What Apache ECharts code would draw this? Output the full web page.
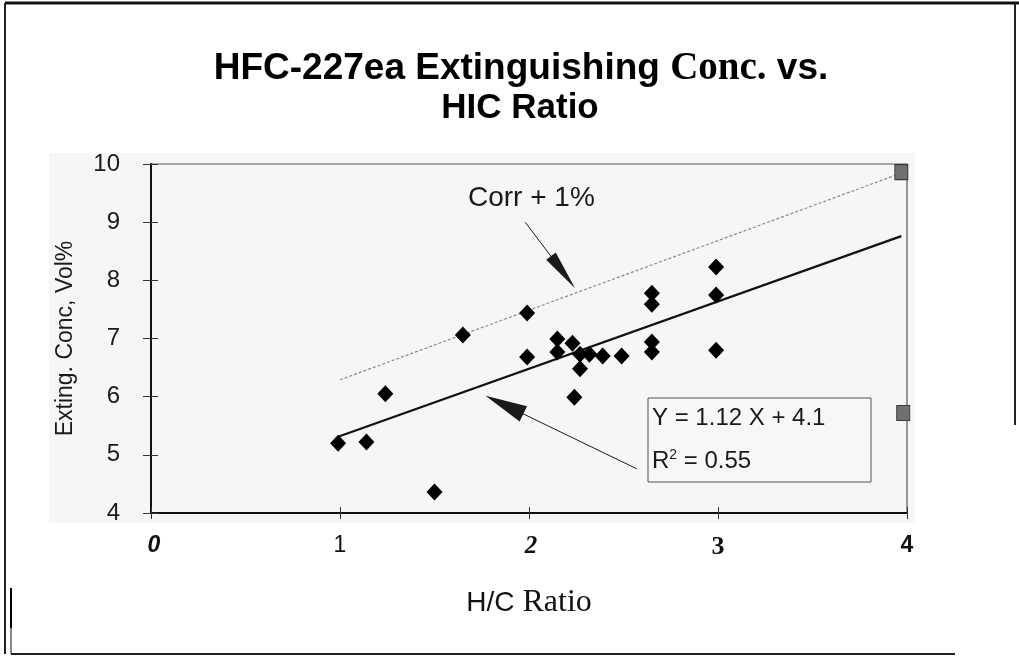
<!DOCTYPE html>
<html>
<head>
<meta charset="utf-8">
<script src="https://cdn.jsdelivr.net/npm/echarts@6/dist/echarts.min.js"></script>
<style>
html,body{margin:0;padding:0;background:#fff;}
#chart{width:1019px;height:658px;}
</style>
</head>
<body>
<div id="chart"></div>
<script>
// ---- data ----
const hcRatio = [0.99, 1.14, 1.24, 1.50, 1.65, 1.99, 1.99, 2.15, 2.15, 2.23, 2.27, 2.27, 2.32, 2.39, 2.49, 2.24, 2.65, 2.65, 2.65, 2.65, 2.99, 2.99, 2.99];
const extConc = [5.20, 5.22, 6.05, 4.36, 7.06, 7.44, 6.68, 6.99, 6.77, 6.92, 6.73, 6.48, 6.73, 6.70, 6.70, 5.99, 7.78, 7.59, 6.94, 6.77, 8.23, 7.75, 6.80];
const markerX = [3.97, 3.98];
const markerY = [9.86, 5.72];
const fitX = [0.99, 3.97];
const fitY = [5.31, 8.76];
const corrX = [1.00, 3.95];
const corrY = [6.29, 9.82];
const arrow1 = [[1.98, 9.00], [2.18, 8.14]];
const arrow2 = [[2.57, 4.76], [1.87, 5.86]];
const xTickLabels = ['0', '1', '2', '3', '4'];
const yTickLabels = ['4', '5', '6', '7', '8', '9', '10'];
const titleLine1 = ['HFC-227ea Extinguishing ', 'Conc.', ' vs.'];
const titleLine2 = 'HIC Ratio';
const yName = 'Exting. Conc, Vol%';
const xName = ['H/C', ' Ratio'];
const corrLabel = 'Corr + 1%';
const eqLabel = 'Y = 1.12 X + 4.1';
const r2Label = ['R', '2', ' = 0.55'];

const pairs = (xs, ys) => xs.map((x, i) => [x, ys[i]]);

const chart = echarts.init(document.getElementById('chart'), null, {renderer: 'canvas'});

const sans = 'Liberation Sans, Arial, sans-serif';
const serif = 'Liberation Serif, Times New Roman, serif';

const xLabelRich = {
  t0: {fontFamily: sans, fontStyle: 'italic', fontWeight: 'bold', fontSize: 23, color: '#111', padding: [0, 0, 0, 6]},
  t1: {fontFamily: sans, fontWeight: 'normal', fontSize: 23, color: '#111'},
  t2: {fontFamily: serif, fontStyle: 'italic', fontWeight: 'bold', fontSize: 25, color: '#111', padding: [0, 0, 0, 4]},
  t3: {fontFamily: serif, fontWeight: 'bold', fontSize: 26, color: '#111'},
  t4: {fontFamily: sans, fontWeight: 'bold', fontSize: 23, color: '#111'}
};

const option = {
  animation: false,
  backgroundColor: '#ffffff',
  grid: {left: 151, right: 112, top: 164, bottom: 145, show: true, borderColor: '#555', borderWidth: 1.2, backgroundColor: 'transparent'},
  xAxis: [{
    type: 'value', min: 0, max: 4, interval: 1,
    axisLine: {show: true, onZero: false, lineStyle: {color: '#111', width: 2}},
    axisTick: {show: true, inside: false, length: 6, lineStyle: {color: '#333', width: 1}},
    splitLine: {show: false},
    axisLabel: {
      margin: 21,
      formatter: function (v) { const i = Math.round(v); return '{t' + i + '|' + xTickLabels[i] + '}'; },
      rich: xLabelRich
    },
    name: '{a|' + xName[0] + '}{b|' + xName[1] + '}',
    nameLocation: 'middle', nameGap: 74,
    nameTextStyle: {rich: {
      a: {fontFamily: sans, fontSize: 28, color: '#111'},
      b: {fontFamily: serif, fontSize: 32, color: '#111'}
    }}
  }, {
    type: 'value', min: 0, max: 4, interval: 1, position: 'bottom',
    axisLine: {show: false}, axisLabel: {show: false}, splitLine: {show: false},
    axisTick: {show: true, inside: true, length: 6, lineStyle: {color: '#333', width: 1}}
  }],
  yAxis: [{
    type: 'value', min: 4, max: 10, interval: 1,
    axisLine: {show: true, onZero: false, lineStyle: {color: '#111', width: 2}},
    axisTick: {show: true, inside: false, length: 8, lineStyle: {color: '#333', width: 1}},
    splitLine: {show: false},
    axisLabel: {
      margin: 31, fontFamily: sans, fontSize: 24, color: '#1a1a1a',
      formatter: function (v) { return yTickLabels[Math.round(v) - 4]; }
    },
    name: yName, nameLocation: 'middle', nameGap: 74,
    nameTextStyle: {fontFamily: sans, fontSize: 23, color: '#1a1a1a'}
  }, {
    type: 'value', min: 4, max: 10, interval: 1, position: 'left',
    axisLine: {show: false}, axisLabel: {show: false}, splitLine: {show: false},
    axisTick: {show: true, inside: true, length: 7, lineStyle: {color: '#333', width: 1}}
  }],
  series: [{
    name: 'Corr + 1%', type: 'line', data: pairs(corrX, corrY),
    symbol: 'none', z: 2,
    lineStyle: {color: '#8a8a8a', width: 1.2, type: [3, 2]}
  }, {
    name: 'Fit', type: 'line', data: pairs(fitX, fitY),
    symbol: 'none', z: 3,
    lineStyle: {color: '#111', width: 2.2},
    markLine: {
      silent: true, animation: false,
      label: {show: false},
      lineStyle: {color: '#1a1a1a', width: 1, type: 'solid'},
      data: [
        [{coord: arrow1[0], symbol: 'none'}, {coord: arrow1[1], symbol: 'triangle', symbolSize: [12, 40]}],
        [{coord: arrow2[0], symbol: 'none'}, {coord: arrow2[1], symbol: 'triangle', symbolSize: [17, 42]}]
      ]
    }
  }, {
    name: 'Data', type: 'scatter', data: pairs(hcRatio, extConc),
    symbol: 'diamond', symbolSize: [16, 17], z: 4,
    itemStyle: {color: '#000', opacity: 1}
  }, {
    name: 'Markers', type: 'scatter', data: pairs(markerX, markerY),
    symbol: 'rect', symbolSize: [13, 15], z: 4,
    itemStyle: {color: '#707070', borderColor: '#3a3a3a', borderWidth: 1, opacity: 1}
  }],
  graphic: [
    {type: 'rect', z: -10, silent: true, shape: {x: 49, y: 153, width: 866, height: 370}, style: {fill: '#f6f6f6'}},
    {type: 'line', silent: true, shape: {x1: 5, y1: 3, x2: 1019, y2: 3}, style: {stroke: '#111', lineWidth: 3}},
    {type: 'line', silent: true, shape: {x1: 5, y1: 3, x2: 5, y2: 654}, style: {stroke: '#222', lineWidth: 2}},
    {type: 'line', silent: true, shape: {x1: 1015, y1: 3, x2: 1015, y2: 425}, style: {stroke: '#222', lineWidth: 2}},
    {type: 'line', silent: true, shape: {x1: 11, y1: 588, x2: 11, y2: 628}, style: {stroke: '#000', lineWidth: 2}},
    {type: 'line', silent: true, shape: {x1: 11, y1: 628, x2: 11, y2: 654}, style: {stroke: '#888', lineWidth: 2}},
    {type: 'line', silent: true, shape: {x1: 11, y1: 654, x2: 955, y2: 654}, style: {stroke: '#222', lineWidth: 2}},
    {type: 'text', silent: true, x: 521, y: 69, style: {
      text: '{a|' + titleLine1[0] + '}{b|' + titleLine1[1] + '}{a|' + titleLine1[2] + '}',
      align: 'center', verticalAlign: 'middle',
      rich: {
        a: {fontFamily: sans, fontWeight: 'bold', fontSize: 37, fill: '#000'},
        b: {fontFamily: serif, fontWeight: 'bold', fontSize: 39, fill: '#000'}
      }
    }},
    {type: 'text', silent: true, x: 520, y: 108, style: {
      text: titleLine2, align: 'center', verticalAlign: 'middle',
      fontFamily: sans, fontWeight: 'bold', fontSize: 35, fill: '#000'
    }},
    {type: 'text', silent: true, x: 468, y: 198, style: {
      text: corrLabel, align: 'left', verticalAlign: 'middle',
      fontFamily: sans, fontSize: 28, fill: '#1a1a1a'
    }},
    {type: 'rect', silent: true, z: 5, shape: {x: 648, y: 398, width: 223, height: 84}, style: {fill: '#f7f7f7', stroke: '#555', lineWidth: 1}},
    {type: 'text', silent: true, z: 6, x: 652, y: 418, style: {
      text: eqLabel, align: 'left', verticalAlign: 'middle',
      fontFamily: sans, fontSize: 24, fill: '#1a1a1a'
    }},
    {type: 'text', silent: true, z: 6, x: 652, y: 461, style: {
      text: '{n|' + r2Label[0] + '}{s|' + r2Label[1] + '}{n|' + r2Label[2] + '}',
      align: 'left', verticalAlign: 'middle',
      rich: {
        n: {fontFamily: sans, fontSize: 24, fill: '#1a1a1a'},
        s: {fontFamily: sans, fontSize: 14, fill: '#1a1a1a', verticalAlign: 'top', padding: [0, 0, 12, 0]}
      }
    }}
  ]
};

chart.setOption(option);
</script>
</body>
</html>
